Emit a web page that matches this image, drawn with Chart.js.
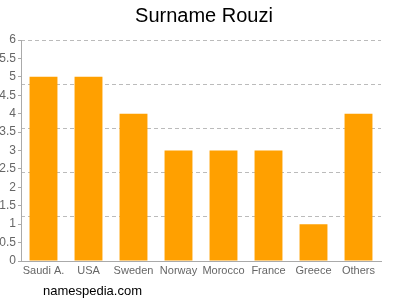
<!DOCTYPE html>
<html>
<head>
<meta charset="utf-8">
<script src="https://cdn.jsdelivr.net/npm/chart.js@4"></script>
<style>
  html, body { margin: 0; padding: 0; background: #fff; }
  #wrap { position: relative; width: 400px; height: 300px; }
  #c { position: absolute; left: 0; top: 0; }
  #title { position: absolute; left: 8px; top: 3px; width: 392px; line-height: 24px; text-align: center; font-family: "Liberation Sans", Arial, sans-serif; font-size: 20px; color: #000; }
  #credit { position: absolute; left: 43px; top: 283px; font-family: "Liberation Sans", Arial, sans-serif; font-size: 13px; color: #000; }
</style>
</head>
<body>
<div id="wrap">
  <canvas id="c" width="400" height="300"></canvas>
  <div id="title"></div>
  <div id="credit">namespedia.com</div>
</div>
<script>
const categories = ["Saudi A.", "USA", "Sweden", "Norway", "Morocco", "France", "Greece", "Others"];
const counts = [5, 5, 4, 3, 3, 3, 1, 4];
const yTickValues = [0, 0.5, 1, 1.5, 2, 2.5, 3, 3.5, 4, 4.5, 5, 5.5, 6];
const gridValues = [1.2, 2.4, 3.6, 4.8, 6];
const titleText = "Surname Rouzi";

document.getElementById('title').textContent = titleText;

const font = "'Liberation Sans', Arial, sans-serif";

new Chart(document.getElementById('c'), {
  type: 'bar',
  data: {
    labels: categories,
    datasets: [{
      data: counts,
      backgroundColor: '#ffa000',
      borderWidth: 0,
      barPercentage: 0.62,
      categoryPercentage: 1.0,
      yAxisID: 'y'
    }]
  },
  options: {
    responsive: false,
    animation: false,
    events: [],
    layout: { padding: { left: 0, right: 0, top: 40, bottom: 0 } },
    plugins: {
      legend: { display: false },
      tooltip: { enabled: false },
      title: { display: false }
    },
    scales: {
      x: {
        grid: { display: false, drawTicks: false, tickLength: 0 },
        border: { display: true, color: '#aaa', width: 1 },
        ticks: { color: '#666', font: { family: font, size: 11 }, padding: 3, maxRotation: 0, autoSkip: false },
        afterFit: (s) => { s.height = 39; }
      },
      y: {
        min: 0, max: 6,
        position: 'left',
        afterBuildTicks: (s) => { s.ticks = yTickValues.map(v => ({ value: v })); },
        grid: { display: true, drawOnChartArea: false, drawTicks: true, tickLength: 3, color: '#aaa' },
        border: { display: true, color: '#aaa', width: 1 },
        ticks: { color: '#666', font: { family: font, size: 12 }, padding: 2, callback: (v) => String(v) },
        afterFit: (s) => { s.width = 21; }
      },
      yGrid: {
        min: 0, max: 6,
        position: 'right',
        display: true,
        afterBuildTicks: (s) => { s.ticks = gridValues.map(v => ({ value: v })); },
        grid: { display: true, drawOnChartArea: true, drawTicks: false, color: '#bbb', lineWidth: 1 },
        border: { display: false, dash: [4, 3] },
        ticks: { display: false },
        afterFit: (s) => { s.width = 19; }
      }
    }
  }
});
</script>
</body>
</html>
